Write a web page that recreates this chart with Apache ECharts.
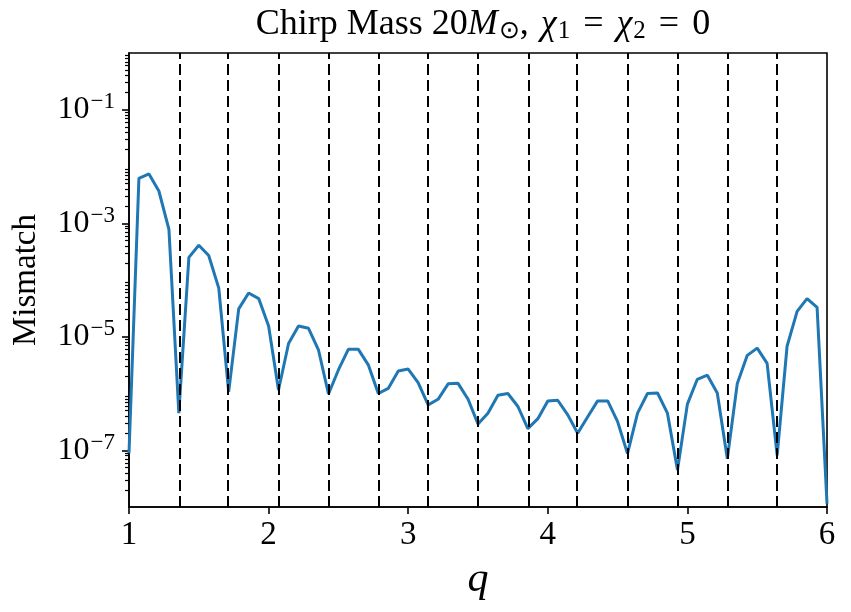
<!DOCTYPE html>
<html>
<head>
<meta charset="utf-8">
<script src="https://cdn.jsdelivr.net/npm/echarts@6/dist/echarts.min.js"></script>
<style>
  html, body { margin: 0; padding: 0; background: #fff; }
  #chart { width: 851px; height: 612px; }
</style>
</head>
<body>
<div id="chart"></div>
<script>
// mass ratio grid
const qValues = [
  1, 1.071, 1.143, 1.214, 1.286, 1.357, 1.429, 1.5, 1.571, 1.643,
  1.714, 1.786, 1.857, 1.929, 2, 2.071, 2.143, 2.214, 2.286, 2.357,
  2.429, 2.5, 2.571, 2.643, 2.714, 2.786, 2.857, 2.929, 3, 3.071,
  3.143, 3.214, 3.286, 3.357, 3.429, 3.5, 3.571, 3.643, 3.714, 3.786,
  3.857, 3.929, 4, 4.071, 4.143, 4.214, 4.286, 4.357, 4.429, 4.5,
  4.571, 4.643, 4.714, 4.786, 4.857, 4.929, 5, 5.071, 5.143, 5.214,
  5.286, 5.357, 5.429, 5.5, 5.571, 5.643, 5.714, 5.786, 5.857, 5.929, 6
]
// mismatch
const mismatch = [
  8.9e-8, 6.2e-3, 7.4e-3, 3.7e-3, 7.8e-4, 4.5e-7, 2.5e-4, 4.1e-4, 2.7e-4, 7.2e-5,
  1.07e-6, 3.1e-5, 5.9e-5, 4.7e-5, 1.55e-5, 1.15e-6, 7.6e-6, 1.55e-5, 1.41e-5, 5.9e-6,
  9.8e-7, 2.6e-6, 6.0e-6, 6.0e-6, 3.2e-6, 1.0e-6, 1.23e-6, 2.5e-6, 2.7e-6, 1.55e-6,
  6.3e-7, 7.9e-7, 1.48e-6, 1.51e-6, 7.9e-7, 2.9e-7, 4.5e-7, 9.3e-7, 1.0e-6, 5.9e-7,
  2.4e-7, 3.6e-7, 7.4e-7, 7.6e-7, 4.2e-7, 2.0e-7, 3.9e-7, 7.4e-7, 7.4e-7, 3.2e-7,
  8.7e-8, 4.5e-7, 1.0e-6, 1.02e-6, 4.5e-7, 4.5e-8, 6.5e-7, 1.78e-6, 2.1e-6, 1.02e-6,
  7.1e-8, 1.48e-6, 4.7e-6, 6.3e-6, 3.4e-6, 8.1e-8, 6.8e-6, 2.8e-5, 4.7e-5, 3.3e-5, 1.15e-8
]
// dashed vertical lines
const gridLinesQ = [1.357, 1.714, 2.071, 2.429, 2.786, 3.143, 3.5, 3.857, 4.214, 4.571, 4.929, 5.286, 5.643]
const xTicks = [1, 2, 3, 4, 5, 6]
const yMajorTicks = [1e-7, 1e-5, 1e-3, 1e-1]

const yMinorTicks = []
for (let e = -8; e <= -1; e++) {
  for (let k = 2; k <= 9; k++) yMinorTicks.push(k * Math.pow(10, e))
}

const FONT = 'Liberation Serif'
const chart = echarts.init(document.getElementById('chart'))

chart.setOption({
  animation: false,
  title: {
    text: 'Chirp Mass 20{i|M}{sub|⊙}{sp|,}{i|χ}{sub|1}{eq|=}{i|χ}{sub|2}{eq|=}0',
    left: 478,
    textAlign: 'center',
    top: 1,
    textStyle: {
      fontFamily: FONT,
      fontSize: 36,
      fontWeight: 'normal',
      color: '#000',
      rich: {
        i: { fontFamily: FONT, fontSize: 36, fontStyle: 'italic', color: '#000' },
        sub: { fontFamily: FONT, fontSize: 25, color: '#000', padding: [13, 0, 0, 1] },
        sp: { fontFamily: FONT, fontSize: 36, color: '#000', padding: [0, 12, 0, 0] },
        eq: { fontFamily: FONT, fontSize: 36, color: '#000', padding: [0, 13, 0, 13] }
      }
    }
  },
  grid: {
    left: 129, right: 24, top: 53, bottom: 105,
    show: true, borderColor: '#000', borderWidth: 1.6
  },
  xAxis: {
    type: 'value',
    min: 1, max: 6, interval: 1,
    name: 'q',
    nameLocation: 'middle',
    nameGap: 52,
    nameTextStyle: { fontFamily: FONT, fontSize: 42, fontStyle: 'italic', color: '#000' },
    axisLine: { show: true, lineStyle: { color: '#000', width: 1.6 } },
    axisTick: { show: true, inside: false, length: 7, lineStyle: { color: '#000', width: 1.6 }, customValues: xTicks },
    axisLabel: { fontFamily: FONT, fontSize: 33, color: '#000', margin: 12, customValues: xTicks },
    splitLine: { show: false }
  },
  yAxis: [
    {
      type: 'log',
      logBase: 10,
      min: 1e-8, max: 1,
      name: 'Mismatch',
      nameLocation: 'middle',
      nameGap: 86,
      nameRotate: 90,
      nameTextStyle: { fontFamily: FONT, fontSize: 33, color: '#000' },
      axisLine: { show: true, lineStyle: { color: '#000', width: 1.6 } },
      axisTick: { show: true, length: 7, lineStyle: { color: '#000', width: 1.6 }, customValues: yMajorTicks },
      axisLabel: {
        margin: 14,
        customValues: yMajorTicks,
        formatter: v => '{b|10}{s|−' + Math.round(-Math.log10(v)) + '}',
        rich: {
          b: { fontFamily: FONT, fontSize: 32, color: '#000' },
          s: { fontFamily: FONT, fontSize: 23, color: '#000', padding: [0, 0, 15, 1] }
        }
      },
      splitLine: { show: false }
    },
    {
      type: 'log',
      logBase: 10,
      min: 1e-8, max: 1,
      position: 'left',
      axisLine: { show: false },
      axisTick: { show: true, length: 4, lineStyle: { color: '#000', width: 1.2 }, customValues: yMinorTicks },
      axisLabel: { show: false },
      splitLine: { show: false }
    }
  ],
  series: [
    {
      type: 'line',
      data: qValues.map((q, i) => [q, mismatch[i]]),
      showSymbol: false,
      lineStyle: { color: '#1f77b4', width: 3 },
      itemStyle: { color: '#1f77b4' },
      markLine: {
        silent: true,
        symbol: 'none',
        label: { show: false },
        lineStyle: { color: '#000', type: [11, 5], width: 2 },
        data: gridLinesQ.map(q => ({ xAxis: q }))
      },
      z: 3
    }
  ]
})
</script>
</body>
</html>
